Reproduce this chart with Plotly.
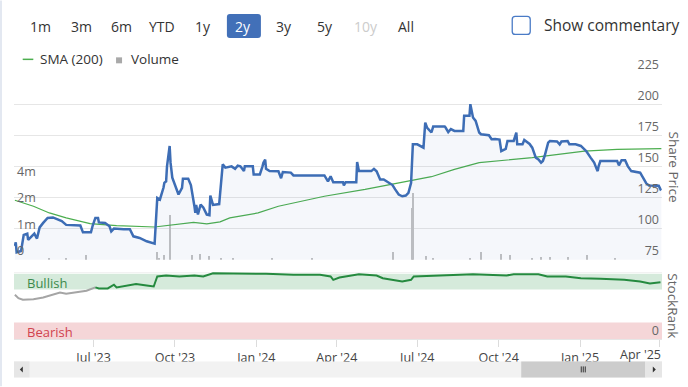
import math
import plotly.graph_objects as go

# ---------------- data ----------------
price_dates = [
    "2023-04-03", "2023-04-04", "2023-04-05", "2023-04-10", "2023-04-13", "2023-04-17", "2023-04-18",
    "2023-04-21", "2023-04-25", "2023-04-28", "2023-05-01", "2023-05-05", "2023-05-10", "2023-05-16",
    "2023-05-22", "2023-05-26", "2023-05-31", "2023-06-12", "2023-06-16", "2023-06-19", "2023-06-28",
    "2023-06-30", "2023-07-03", "2023-07-06", "2023-07-07", "2023-07-14", "2023-07-19", "2023-07-21",
    "2023-07-24", "2023-08-04", "2023-08-11", "2023-08-15", "2023-08-22", "2023-08-30", "2023-09-08",
    "2023-09-11", "2023-09-14", "2023-09-18", "2023-09-19", "2023-09-21", "2023-09-22", "2023-09-25",
    "2023-09-26", "2023-09-28", "2023-10-03", "2023-10-05", "2023-10-09", "2023-10-10", "2023-10-16",
    "2023-10-18", "2023-10-19", "2023-10-23", "2023-10-24", "2023-10-25", "2023-10-27", "2023-10-30",
    "2023-11-02", "2023-11-06", "2023-11-09", "2023-11-10", "2023-11-13", "2023-11-20", "2023-11-22",
    "2023-11-24", "2023-11-27", "2023-12-04", "2023-12-08", "2023-12-11", "2023-12-14", "2023-12-18",
    "2023-12-19", "2023-12-28", "2023-12-29", "2024-01-05", "2024-01-08", "2024-01-09", "2024-01-11",
    "2024-01-12", "2024-01-16", "2024-01-26", "2024-01-29", "2024-01-31", "2024-02-09", "2024-02-12",
    "2024-03-18", "2024-03-20", "2024-03-22", "2024-03-25", "2024-03-26", "2024-03-28", "2024-04-08",
    "2024-04-09", "2024-04-11", "2024-04-23", "2024-04-24", "2024-04-26", "2024-05-10", "2024-05-13",
    "2024-05-16", "2024-05-20", "2024-05-24", "2024-05-29", "2024-06-03", "2024-06-06", "2024-06-10",
    "2024-06-14", "2024-06-18", "2024-06-21", "2024-06-24", "2024-06-26", "2024-07-01", "2024-07-08",
    "2024-07-10", "2024-07-12", "2024-07-17", "2024-07-19", "2024-08-01", "2024-08-02", "2024-08-05",
    "2024-08-08", "2024-08-12", "2024-08-22", "2024-08-23", "2024-08-29", "2024-08-30", "2024-09-02",
    "2024-09-05", "2024-09-09", "2024-09-11", "2024-09-20", "2024-09-23", "2024-09-27", "2024-10-02",
    "2024-10-04", "2024-10-09", "2024-10-11", "2024-10-18", "2024-10-21", "2024-10-22", "2024-10-28",
    "2024-10-30", "2024-11-05", "2024-11-08", "2024-11-12", "2024-11-15", "2024-11-18", "2024-11-20",
    "2024-11-22", "2024-11-26", "2024-11-28", "2024-12-06", "2024-12-09", "2024-12-11", "2024-12-18",
    "2024-12-20", "2024-12-27", "2025-01-02", "2025-01-06", "2025-01-08", "2025-01-13", "2025-01-17",
    "2025-01-20", "2025-01-21", "2025-01-22", "2025-01-24", "2025-02-12", "2025-02-14", "2025-02-17",
    "2025-02-21", "2025-02-24", "2025-02-28", "2025-03-10", "2025-03-13", "2025-03-17", "2025-03-20",
    "2025-03-31", "2025-04-02", "2025-04-03",
]
price_values = [
    86, 89, 81, 82, 95, 96, 91,
    93, 96, 92, 101, 104.6, 108.6, 109,
    107, 106, 103, 102.5, 102.5, 97, 97,
    102.5, 108.6, 108.6, 105, 104.5, 101.9, 97.8,
    100, 99.5, 99.5, 93.8, 92.5, 89.8, 87.9,
    124.7, 123.4, 132.8, 136.8, 138, 150, 166.4,
    153, 140.9, 131.5, 127.4, 132.8, 140, 140,
    136.8, 135, 118, 112.6, 119, 111.3, 119.4,
    117, 111.3, 110.8, 126.6, 119, 119.7, 134,
    151.6, 149, 150, 148, 150.5, 150, 146.2,
    150, 150, 143.5, 143.5, 150, 153, 155.5,
    148, 146.2, 146, 140.5, 145.5, 145, 142.7,
    142.7, 140, 138, 142, 140, 137.3, 137.3,
    134.7, 137.3, 137.3, 153.5, 146.2, 146.2, 148,
    146, 139.5, 139.5, 137.3, 135, 131.5, 127.4,
    126, 126.6, 128.8, 136.8, 167.7, 167.7, 165,
    185.2, 181.2, 177.2, 182, 182, 181.2, 177.5,
    180, 178.5, 178.5, 190.6, 190.6, 200, 189.2,
    186.5, 177.2, 175.8, 175, 171.8, 172, 171.5,
    162.3, 164, 170.4, 170.4, 177.2, 167.7, 167.7,
    171.2, 168, 165, 157, 155.6, 153, 154.3,
    158.3, 169, 170.4, 170, 167.7, 170, 170.4,
    167.7, 167.7, 166.4, 163.7, 162.3, 157, 153,
    147.6, 146.2, 150, 154.3, 154.3, 150.8, 155,
    155, 150.2, 146.2, 144.9, 140.9, 136.3, 134.7,
    134.5, 131.5, 132,
]

sma_dates = [
    "2023-04-03", "2023-04-24", "2023-05-12", "2023-05-31", "2023-06-27", "2023-07-27", "2023-09-08",
    "2023-10-03", "2023-10-22", "2023-11-06", "2023-11-21", "2023-12-02", "2024-01-03", "2024-01-26",
    "2024-03-18", "2024-05-03", "2024-06-18", "2024-07-17", "2024-08-12", "2024-09-09", "2024-11-08",
    "2025-01-06", "2025-02-12", "2025-04-03",
]
sma_values = [
    122.8, 118, 112.6, 108.6, 104, 102.4, 101.3,
    103.2, 105, 103.8, 105.4, 108.6, 112.6, 118,
    126, 131.5, 138, 141.7, 147.6, 153, 157,
    162.3, 163.7, 164.3,
]

volume_dates = [
    "2023-05-12", "2023-05-31", "2023-06-22", "2023-09-11", "2023-09-13", "2023-09-19", "2023-09-25",
    "2023-10-20", "2023-10-30", "2023-11-09", "2023-11-22", "2023-12-06", "2024-01-19", "2024-03-04",
    "2024-06-04", "2024-06-25", "2024-06-26", "2024-07-11", "2024-07-19", "2024-08-30", "2024-09-11",
    "2024-10-04", "2024-10-14", "2024-11-08", "2024-11-18", "2024-11-28", "2024-12-19", "2025-01-09",
    "2025-02-10",
]
volume_values = [
    530000, 520000, 570000, 605000, 530000, 570000, 1620000,
    570000, 580000, 550000, 530000, 520000, 530000, 530000,
    620000, 1940000, 2840000, 550000, 530000, 530000, 620000,
    580000, 560000, 530000, 540000, 540000, 540000, 570000,
    530000,
]

rank_dates = [
    "2023-04-03", "2023-04-07", "2023-04-12", "2023-04-24", "2023-05-05", "2023-05-16", "2023-05-24",
    "2023-05-31", "2023-06-12", "2023-06-23", "2023-07-03", "2023-07-07", "2023-07-17", "2023-07-24",
    "2023-07-27", "2023-08-07", "2023-08-18", "2023-08-30", "2023-09-07", "2023-09-11", "2023-09-21",
    "2023-10-06", "2023-10-23", "2023-11-02", "2023-11-13", "2023-12-06", "2024-01-12", "2024-02-12",
    "2024-03-13", "2024-03-25", "2024-03-28", "2024-04-04", "2024-04-26", "2024-05-16", "2024-05-23",
    "2024-06-14", "2024-06-24", "2024-06-27", "2024-07-26", "2024-09-02", "2024-10-10", "2024-10-18",
    "2024-11-15", "2024-11-25", "2024-12-16", "2025-01-02", "2025-01-24", "2025-02-20", "2025-03-10",
    "2025-03-21", "2025-04-02",
]
rank_values = [
    66, 61, 58.5, 59.4, 62, 66, 69.4,
    67.5, 70, 72, 77, 75.5, 75.5, 81,
    77, 80, 82, 80, 78.4, 93.3, 94.8,
    93.3, 94.8, 93.3, 98.2, 97.7, 97.3, 95.8,
    95.8, 93.3, 88.3, 91.8, 96.7, 94.8, 90.7,
    85.8, 88.3, 93.3, 94.8, 96.7, 94.8, 96.7,
    96.7, 93.3, 93.3, 90.7, 89.8, 88.3, 85.8,
    82.8, 84.8,
]

x_tick_dates = ["2023-07-01", "2023-10-01", "2024-01-01", "2024-04-01", "2024-07-01",
                "2024-10-01", "2025-01-01", "2025-04-01"]
x_tick_labels = ["Jul '23", "Oct '23", "Jan '24", "Apr '24", "Jul '24", "Oct '24", "Jan '25", "Apr '25"]
volume_tick_values = [500000, 1000000, 2000000, 4000000]
volume_tick_labels = ["0", "1m", "2m", "4m"]
price_ticks = [75, 100, 125, 150, 175, 200, 225]
bullish_band = [74, 97.5]
bearish_band = [0, 24.8]
range_buttons = ["1m", "3m", "6m", "YTD", "1y", "2y", "3y", "5y", "10y", "All"]
selected_button = "2y"
disabled_buttons = ["10y"]

# ---------------- layout helpers (pixel -> paper) ----------------
W, H = 688, 387
L, R, T, B = 14, 661.7, 72.7, 339.5
PRICE_BOTTOM = 260.0
RANK_TOP = 272.3


def px(x):
    return (x - L) / (R - L)


def py(y):
    return (B - y) / (B - T)


def rrect(x0, y0, x1, y1, r):
    pts = [
        f"M {px(x0 + r)} {py(y0)}", f"L {px(x1 - r)} {py(y0)}", f"Q {px(x1)} {py(y0)} {px(x1)} {py(y0 + r)}",
        f"L {px(x1)} {py(y1 - r)}", f"Q {px(x1)} {py(y1)} {px(x1 - r)} {py(y1)}",
        f"L {px(x0 + r)} {py(y1)}", f"Q {px(x0)} {py(y1)} {px(x0)} {py(y1 - r)}",
        f"L {px(x0)} {py(y0 + r)}", f"Q {px(x0)} {py(y0)} {px(x0 + r)} {py(y0)}", "Z",
    ]
    return " ".join(pts)


FONT = "Open Sans"
BLUE = "#3d6db5"
GREEN_SMA = "#4cae4f"
RANK_GREEN = "#258a3f"
RANK_GREY = "#a5a5a5"

fig = go.Figure()

# volume bars (log axis, left)
fig.add_trace(go.Bar(
    x=volume_dates, y=volume_values, xaxis="x", yaxis="y",
    marker=dict(color="#c2c2c2", line=dict(width=0)),
    width=1.4 * 86400000, name="Volume",
))

# SMA
fig.add_trace(go.Scatter(
    x=sma_dates, y=sma_values, xaxis="x", yaxis="y2", mode="lines",
    line=dict(color=GREEN_SMA, width=1.2), name="SMA (200)",
))

# share price
fig.add_trace(go.Scatter(
    x=price_dates, y=price_values, xaxis="x", yaxis="y2", mode="lines",
    line=dict(color=BLUE, width=2.5), fill="tozeroy",
    fillcolor="rgba(58,107,181,0.05)", name="Share Price",
))

# StockRank: grey while below the bullish zone, green afterwards
split = next(i for i, v in enumerate(rank_values) if v >= 75)
fig.add_trace(go.Scatter(
    x=rank_dates[:split + 1], y=rank_values[:split + 1], xaxis="x", yaxis="y3", mode="lines",
    line=dict(color=RANK_GREY, width=2), name="StockRank",
))
fig.add_trace(go.Scatter(
    x=rank_dates[split:], y=rank_values[split:], xaxis="x", yaxis="y3", mode="lines",
    line=dict(color=RANK_GREEN, width=2), name="StockRank",
))

vol_lo = math.log10(volume_tick_values[0])
vol_hi = vol_lo + (PRICE_BOTTOM - T) / 26.6 * math.log10(2)

tickfont = dict(family=FONT, size=12.5, color="#666666")
xfont = dict(family=FONT, size=12.5, color="#444444")

# the last x label is justified inside the chart (as the reference does); it is drawn separately
axis_labels = x_tick_labels[:-1] + [""]

fig.update_layout(
    width=W, height=H,
    margin=dict(l=L, r=W - R, t=T, b=H - B, pad=0),
    paper_bgcolor="white", plot_bgcolor="white",
    showlegend=False,
    bargap=0,
    font=dict(family=FONT, color="#333333"),
    xaxis=dict(
        type="date", anchor="y3", domain=[0, 1],
        range=["2023-04-02", "2025-04-03 17:00"],
        tickvals=x_tick_dates, ticktext=axis_labels,
        tickfont=xfont,
        showgrid=False, zeroline=False,
        showline=True, linecolor="#e6e6e6", linewidth=1,
        ticks="outside", ticklen=7, tickcolor="#dcdcdc", tickwidth=1,
    ),
    yaxis=dict(
        type="log", anchor="x", side="left",
        domain=[(B - PRICE_BOTTOM) / (B - T), 1],
        range=[vol_lo, vol_hi],
        tickvals=volume_tick_values, ticktext=volume_tick_labels,
        ticklabelposition="inside top", ticklabeloverflow="allow",
        tickfont=tickfont, showgrid=False, zeroline=False, showline=False, ticks="",
    ),
    yaxis2=dict(
        overlaying="y", anchor="x", side="right",
        range=[75, 225], tickvals=price_ticks,
        ticklabelposition="inside top", ticklabeloverflow="allow",
        tickfont=tickfont, showgrid=True, gridcolor="#e6e6e6", gridwidth=1,
        zeroline=False, showline=False, ticks="",
    ),
    yaxis3=dict(
        anchor="x", side="right",
        domain=[0, (B - RANK_TOP) / (B - T)],
        range=[0, 100], tickvals=[0], ticktext=["0"],
        ticklabelposition="inside top", ticklabeloverflow="allow",
        tickfont=tickfont, showgrid=False, zeroline=False, showline=False, ticks="",
    ),
)

shapes = []
# StockRank zones
shapes.append(dict(type="rect", xref="paper", yref="y3", x0=0, x1=1, y0=bullish_band[0], y1=bullish_band[1],
                   fillcolor="#d5eadb", line=dict(width=0), layer="below"))
shapes.append(dict(type="rect", xref="paper", yref="y3", x0=0, x1=1, y0=bearish_band[0], y1=bearish_band[1],
                   fillcolor="#f5d6d8", line=dict(width=0), layer="below"))
shapes.append(dict(type="line", xref="paper", yref="y3", x0=0, x1=1, y0=100, y1=100,
                   line=dict(color="#e6e6e6", width=1), layer="below"))
# left page border
shapes.append(dict(type="line", xref="paper", yref="paper", x0=px(1), x1=px(1), y0=py(0), y1=py(H),
                   line=dict(color="#e3e8f1", width=2)))
# range selector: selected button
sel_i = range_buttons.index(selected_button)
button_x = [40.7, 81, 121.7, 161.7, 202.7, 243.3, 284.3, 325, 365.7, 406]
shapes.append(dict(type="path", xref="paper", yref="paper",
                   path=rrect(button_x[sel_i] - 16.5, 13.5, button_x[sel_i] + 17.5, 37.5, 3),
                   fillcolor="#4270b8", line=dict(width=0)))
# checkbox
shapes.append(dict(type="path", xref="paper", yref="paper", path=rrect(512, 16, 530, 34, 3),
                   fillcolor="white", line=dict(color="#4a7bc6", width=1.3)))
# legend symbols
shapes.append(dict(type="line", xref="paper", yref="paper", x0=px(22.7), x1=px(33.3), y0=py(59), y1=py(59),
                   line=dict(color=GREEN_SMA, width=1.5)))
shapes.append(dict(type="rect", xref="paper", yref="paper", x0=px(116), x1=px(122), y0=py(63), y1=py(57),
                   fillcolor="#a9a9a9", line=dict(width=0)))
# navigator scrollbar
shapes.append(dict(type="rect", xref="paper", yref="paper", x0=px(L), x1=px(R), y0=py(378), y1=py(362),
                   fillcolor="#f2f2f2", line=dict(width=0)))
shapes.append(dict(type="rect", xref="paper", yref="paper", x0=px(L), x1=px(29.5), y0=py(378), y1=py(362),
                   fillcolor="#e6e6e6", line=dict(width=0)))
shapes.append(dict(type="rect", xref="paper", yref="paper", x0=px(521), x1=px(645), y0=py(378), y1=py(362),
                   fillcolor="#cccccc", line=dict(width=0)))
shapes.append(dict(type="rect", xref="paper", yref="paper", x0=px(645), x1=px(R), y0=py(378), y1=py(362),
                   fillcolor="#e6e6e6", line=dict(width=0)))
shapes.append(dict(type="path", xref="paper", yref="paper",
                   path=f"M {px(19.8)} {py(370)} L {px(22.8)} {py(367)} L {px(22.8)} {py(373)} Z",
                   fillcolor="#333333", line=dict(width=0)))
shapes.append(dict(type="path", xref="paper", yref="paper",
                   path=f"M {px(655.5)} {py(370)} L {px(652.5)} {py(367)} L {px(652.5)} {py(373)} Z",
                   fillcolor="#333333", line=dict(width=0)))
for gx in (581, 583, 585):
    shapes.append(dict(type="line", xref="paper", yref="paper", x0=px(gx), x1=px(gx), y0=py(373), y1=py(367),
                       line=dict(color="#333333", width=1)))

annotations = []
for lbl, bx in zip(range_buttons, button_x):
    if lbl == selected_button:
        col = "white"
    elif lbl in disabled_buttons:
        col = "#cccccc"
    else:
        col = "#333333"
    annotations.append(dict(text=lbl, x=px(bx), y=py(26), xref="paper", yref="paper", showarrow=False,
                            xanchor="center", yanchor="middle", font=dict(family=FONT, size=14, color=col)))
annotations.append(dict(text="Show commentary", x=px(542), y=py(25), xref="paper", yref="paper", showarrow=False,
                        xanchor="left", yanchor="middle", font=dict(family=FONT, size=15.5, color="#333333")))
annotations.append(dict(text="SMA (200)", x=px(38), y=py(58.5), xref="paper", yref="paper", showarrow=False,
                        xanchor="left", yanchor="middle", font=dict(family=FONT, size=13.5, color="#333333")))
annotations.append(dict(text="Volume", x=px(129), y=py(58.5), xref="paper", yref="paper", showarrow=False,
                        xanchor="left", yanchor="middle", font=dict(family=FONT, size=13.5, color="#333333")))
annotations.append(dict(text="Bullish", x=px(24.5), y=py(283.3), xref="paper", yref="paper", showarrow=False,
                        xanchor="left", yanchor="middle", font=dict(family=FONT, size=13, color="#3c8a4c")))
annotations.append(dict(text="Bearish", x=px(24.5), y=py(332.5), xref="paper", yref="paper", showarrow=False,
                        xanchor="left", yanchor="middle", font=dict(family=FONT, size=13, color="#d0434f")))
annotations.append(dict(text="Share Price", x=px(673.8), y=py(166.7), xref="paper", yref="paper", showarrow=False,
                        textangle=90, xanchor="center", yanchor="middle",
                        font=dict(family=FONT, size=13.5, color="#666666")))
annotations.append(dict(text="StockRank", x=px(673), y=py(306), xref="paper", yref="paper", showarrow=False,
                        textangle=90, xanchor="center", yanchor="middle",
                        font=dict(family=FONT, size=13.5, color="#666666")))
# last date label, right-justified to the plot edge
annotations.append(dict(text=x_tick_labels[-1], x=x_tick_dates[-1], xref="x", y=py(355.5), yref="paper",
                        showarrow=False, xanchor="right", yanchor="middle", xshift=3, font=xfont))

fig.update_layout(shapes=shapes, annotations=annotations)

fig.write_html("out.html", config={"displayModeBar": False})

# remove the browser's default page margin so the figure sits at the window origin
with open("out.html", "r", encoding="utf-8") as fh:
    html = fh.read()
html = html.replace("<body>", '<body style="margin:0;padding:0;overflow:hidden;">', 1)
with open("out.html", "w", encoding="utf-8") as fh:
    fh.write(html)
